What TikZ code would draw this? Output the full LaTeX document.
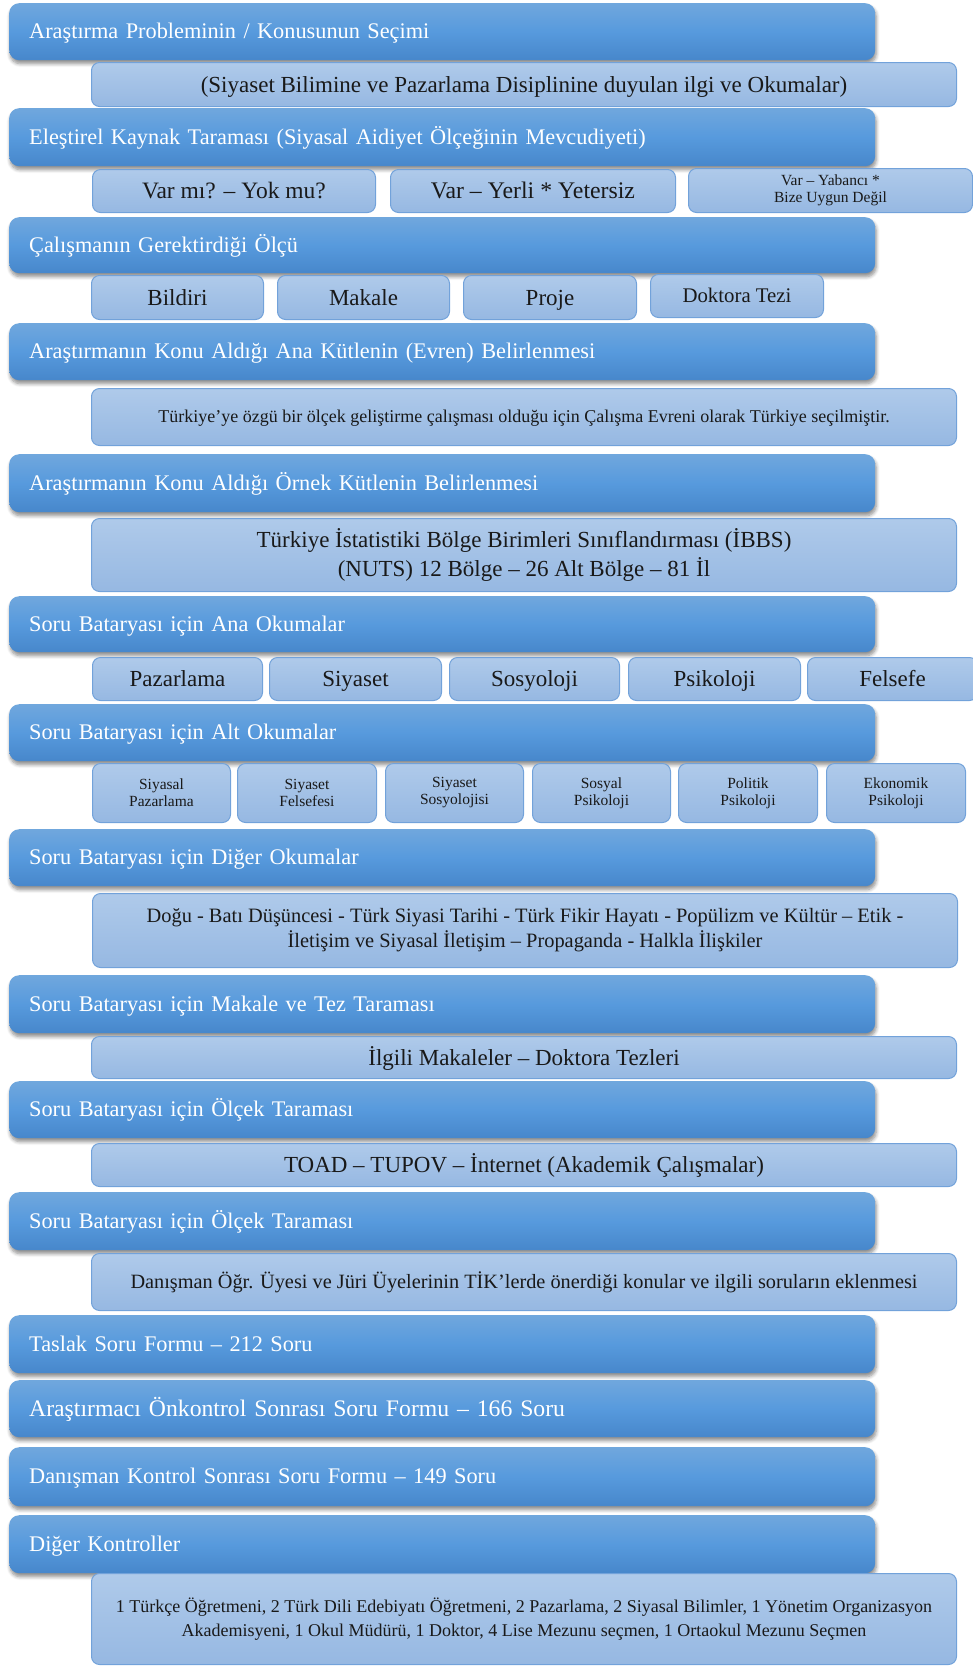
\documentclass[tikz,border=0pt]{standalone}
\usepackage{fontspec}
\setmainfont{Liberation Serif}
\usetikzlibrary{shadows.blur}

\definecolor{stageTop}{HTML}{70A7DD}
\definecolor{stageMid}{HTML}{579ADD}
\definecolor{stageBot}{HTML}{4787CB}
\definecolor{itemTop}{HTML}{AFCAEA}
\definecolor{itemBot}{HTML}{96B8E2}
\definecolor{itemEdge}{HTML}{72A2DA}

\tikzset{
  stagebox/.style={anchor=north west, rounded corners=10pt,
    top color=stageTop, bottom color=stageBot, middle color=stageMid,
    text=white, align=left, text width=826pt, inner xsep=20pt,
    minimum width=866pt, text height=15.5pt, text depth=1pt,
    font=\fontsize{22.3pt}{27pt}\selectfont,
    blur shadow={shadow xshift=1pt, shadow yshift=-3.5pt,
      shadow blur radius=3.5pt, shadow blur steps=6, shadow opacity=45}},
  itembox/.style={anchor=north west, rounded corners=8pt,
    top color=itemTop, bottom color=itemBot, draw=itemEdge, line width=1pt,
    text=black!90, align=center, inner sep=2pt},
  bigtext/.style={font=\fontsize{23pt}{28.5pt}\selectfont},
  oneline/.style={text height=16pt, text depth=1pt},
  smalltext/.style={font=\fontsize{15.5pt}{17pt}\selectfont},
}

\begin{document}
\begin{tikzpicture}[x=1pt, y=-1pt]
\useasboundingbox (0,0) rectangle (973,1666);

% --- 1: topic selection
\node[stagebox, minimum height=57pt] (s1) at (9,3) {Araştırma Probleminin / Konusunun Seçimi};
\node[itembox, bigtext, oneline, minimum width=865pt, minimum height=44pt] (i1) at (91,62)
  {(Siyaset Bilimine ve Pazarlama Disiplinine duyulan ilgi ve Okumalar)};

% --- 2: literature review
\node[stagebox, minimum height=58pt] (s2) at (9,108) {Eleştirel Kaynak Taraması (Siyasal Aidiyet Ölçeğinin Mevcudiyeti)};
\node[itembox, bigtext, oneline, font=\fontsize{23.5pt}{28pt}\selectfont, minimum width=283pt, minimum height=43pt] (i2a) at (92,169) {Var mı? – Yok mu?};
\node[itembox, bigtext, oneline, font=\fontsize{23.8pt}{28pt}\selectfont, minimum width=285pt, minimum height=43pt] (i2b) at (390,169) {Var – Yerli * Yetersiz};
\node[itembox, smalltext, minimum width=284pt, minimum height=44pt] (i2c) at (688,168) {Var – Yabancı *\\Bize Uygun Değil};

% --- 3: required scale
\node[stagebox, minimum height=56pt] (s3) at (9,217) {Çalışmanın Gerektirdiği Ölçü};
\node[itembox, bigtext, oneline, minimum width=172pt, minimum height=44pt] (i3a) at (91,275) {Bildiri};
\node[itembox, bigtext, oneline, minimum width=172pt, minimum height=44pt] (i3b) at (277,275) {Makale};
\node[itembox, bigtext, oneline, minimum width=173pt, minimum height=44pt] (i3c) at (463,275) {Proje};
\node[itembox, font=\fontsize{20.8pt}{24pt}\selectfont, text height=14.5pt, text depth=1pt, minimum width=173pt, minimum height=43pt] (i3d) at (650,274) {Doktora Tezi};

% --- 4: population
\node[stagebox, minimum height=57pt] (s4) at (9,323) {Araştırmanın Konu Aldığı Ana Kütlenin (Evren) Belirlenmesi};
\node[itembox, font=\fontsize{18pt}{21pt}\selectfont, text height=12.5pt, text depth=1pt, minimum width=865pt, minimum height=57pt] (i4) at (91,388)
  {Türkiye’ye özgü bir ölçek geliştirme çalışması olduğu için Çalışma Evreni olarak Türkiye seçilmiştir.};

% --- 5: sample
\node[stagebox, minimum height=58pt] (s5) at (9,454) {Araştırmanın Konu Aldığı Örnek Kütlenin Belirlenmesi};
\node[itembox, bigtext, minimum width=865pt, minimum height=73pt] (i5) at (91,518)
  {Türkiye İstatistiki Bölge Birimleri Sınıflandırması (İBBS)\\(NUTS) 12 Bölge – 26 Alt Bölge – 81 İl};

% --- 6: main readings
\node[stagebox, minimum height=56pt] (s6) at (9,596) {Soru Bataryası için Ana Okumalar};
\node[itembox, bigtext, oneline, minimum width=170pt, minimum height=43pt] (i6a) at (92,657) {Pazarlama};
\node[itembox, bigtext, oneline, minimum width=172pt, minimum height=43pt] (i6b) at (269,657) {Siyaset};
\node[itembox, bigtext, oneline, minimum width=170pt, minimum height=43pt] (i6c) at (449,657) {Sosyoloji};
\node[itembox, bigtext, oneline, minimum width=172pt, minimum height=43pt] (i6d) at (628,657) {Psikoloji};
\node[itembox, bigtext, oneline, minimum width=170pt, minimum height=43pt] (i6e) at (807,657) {Felsefe};

% --- 7: sub readings
\node[stagebox, minimum height=57pt] (s7) at (9,704) {Soru Bataryası için Alt Okumalar};
\node[itembox, smalltext, minimum width=138pt, minimum height=59pt] (i7a) at (92,763) {Siyasal\\Pazarlama};
\node[itembox, smalltext, minimum width=139pt, minimum height=59pt] (i7b) at (237,763) {Siyaset\\Felsefesi};
\node[itembox, smalltext, minimum width=138pt, minimum height=59pt] (i7c) at (385,763) {Siyaset\\Sosyolojisi};
\node[itembox, smalltext, minimum width=138pt, minimum height=59pt] (i7d) at (532,763) {Sosyal\\Psikoloji};
\node[itembox, smalltext, minimum width=139pt, minimum height=59pt] (i7e) at (678,763) {Politik\\Psikoloji};
\node[itembox, smalltext, minimum width=139pt, minimum height=59pt] (i7f) at (826,763) {Ekonomik\\Psikoloji};

% --- 8: other readings
\node[stagebox, minimum height=57pt] (s8) at (9,829) {Soru Bataryası için Diğer Okumalar};
\node[itembox, font=\fontsize{20.4pt}{25pt}\selectfont, minimum width=865pt, minimum height=74pt] (i8) at (92,893)
  {Doğu - Batı Düşüncesi - Türk Siyasi Tarihi - Türk Fikir Hayatı - Popülizm ve Kültür – Etik -\\İletişim ve Siyasal İletişim – Propaganda - Halkla İlişkiler};

% --- 9: articles and theses
\node[stagebox, minimum height=58pt] (s9) at (9,975) {Soru Bataryası için Makale ve Tez Taraması};
\node[itembox, bigtext, oneline, minimum width=865pt, minimum height=42pt] (i9) at (91,1036) {İlgili Makaleler – Doktora Tezleri};

% --- 10: scale review
\node[stagebox, minimum height=57pt] (s10) at (9,1081) {Soru Bataryası için Ölçek Taraması};
\node[itembox, bigtext, oneline, minimum width=865pt, minimum height=43pt] (i10) at (91,1143) {TOAD – TUPOV – İnternet (Akademik Çalışmalar)};

% --- 11: committee suggestions
\node[stagebox, minimum height=58pt] (s11) at (9,1192) {Soru Bataryası için Ölçek Taraması};
\node[itembox, font=\fontsize{20.3pt}{24pt}\selectfont, text height=14pt, text depth=1pt, minimum width=865pt, minimum height=57pt] (i11) at (91,1253)
  {Danışman Öğr. Üyesi ve Jüri Üyelerinin TİK’lerde önerdiği konular ve ilgili soruların eklenmesi};

% --- 12-15: question form versions
\node[stagebox, minimum height=58pt] (s12) at (9,1315) {Taslak Soru Formu – 212 Soru};
\node[stagebox, font=\fontsize{23.7pt}{28pt}\selectfont, text height=16pt, minimum height=57pt] (s13) at (9,1380) {Araştırmacı Önkontrol Sonrası Soru Formu – 166 Soru};
\node[stagebox, minimum height=59pt] (s14) at (9,1447) {Danışman Kontrol Sonrası Soru Formu – 149 Soru};
\node[stagebox, minimum height=58pt] (s15) at (9,1515) {Diğer Kontroller};
\node[itembox, font=\fontsize{18pt}{23.5pt}\selectfont, minimum width=865pt, minimum height=91pt] (i15) at (91,1573)
  {1 Türkçe Öğretmeni, 2 Türk Dili Edebiyatı Öğretmeni, 2 Pazarlama, 2 Siyasal Bilimler, 1 Yönetim Organizasyon\\Akademisyeni, 1 Okul Müdürü, 1 Doktor, 4 Lise Mezunu seçmen, 1 Ortaokul Mezunu Seçmen};
\end{tikzpicture}
\end{document}
